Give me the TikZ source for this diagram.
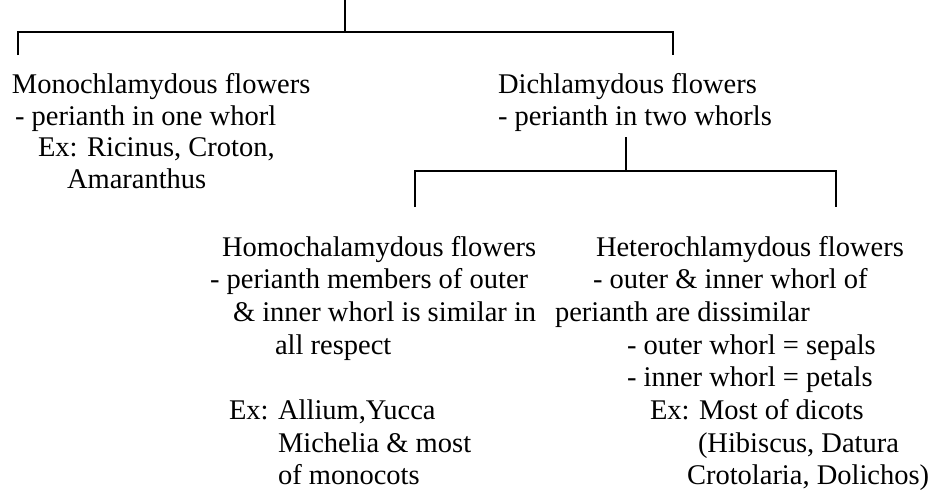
\documentclass[tikz,border=0pt]{standalone}
\usepackage{fontspec}
\setmainfont{Liberation Serif}
\begin{document}
\begin{tikzpicture}[x=1pt,y=-1pt,
  txt/.style={anchor=base west,inner sep=0pt,outer sep=0pt,font=\fontsize{28.5}{32}\selectfont},
  wire/.style={line width=1.3pt,line cap=butt,line join=miter}]
\useasboundingbox (0,0) rectangle (934,493);

% first level: monochlamydous / dichlamydous
\node[txt] (m1) at (12,93.5)  {Monochlamydous flowers};
\node[txt] (m2) at (15,125)   {- perianth in one whorl};
\node[txt] (m3) at (38,156.5) {Ex: Ricinus, Croton,};
\node[txt] (m4) at (67,188)   {Amaranthus};

\node[txt] (d1) at (498,93.5) {Dichlamydous flowers};
\node[txt] (d2) at (498,125)  {- perianth in two whorls};

% second level: homochlamydous / heterochlamydous
\node[txt] (h1) at (222,256)   {Homochalamydous flowers};
\node[txt] (h2) at (210,288.7) {- perianth members of outer};
\node[txt] (h3) at (233,321.4) {\& inner whorl is similar in};
\node[txt] (h4) at (275,354.1) {all respect};
\node[txt] (h5) at (229,419.5) {Ex: Allium,Yucca};
\node[txt] (h6) at (278,452.2) {Michelia \& most};
\node[txt] (h7) at (278,484.9) {of monocots};

\node[txt] (t1) at (596,256)   {Heterochlamydous flowers};
\node[txt] (t2) at (593,288.7) {- outer \& inner whorl of};
\node[txt] (t3) at (555,321.4) {perianth are dissimilar};
\node[txt] (t4) at (627,354.1) {- outer whorl = sepals};
\node[txt] (t5) at (627,386.8) {- inner whorl = petals};
\node[txt] (t6) at (650,419.5) {Ex: Most of dicots};
\node[txt] (t7) at (698,452.2) {(Hibiscus, Datura};
\node[txt] (t8) at (687,484.9) {Crotolaria, Dolichos)};

% bracket ends
\coordinate (root)  at (345,0);
\coordinate (j1)    at (345,32);
\coordinate (monoE) at (18,55);
\coordinate (dichE) at (673,55);
\coordinate (stem)  at (626,137);
\coordinate (j2)    at (626,171);
\coordinate (homoE) at (415,207);
\coordinate (hetE)  at (836,207);

\draw[wire] (root) -- (j1);
\draw[wire] (monoE) |- (j1) -| (dichE);
\draw[wire] (stem) -- (j2);
\draw[wire] (homoE) |- (j2) -| (hetE);
\end{tikzpicture}
\end{document}
